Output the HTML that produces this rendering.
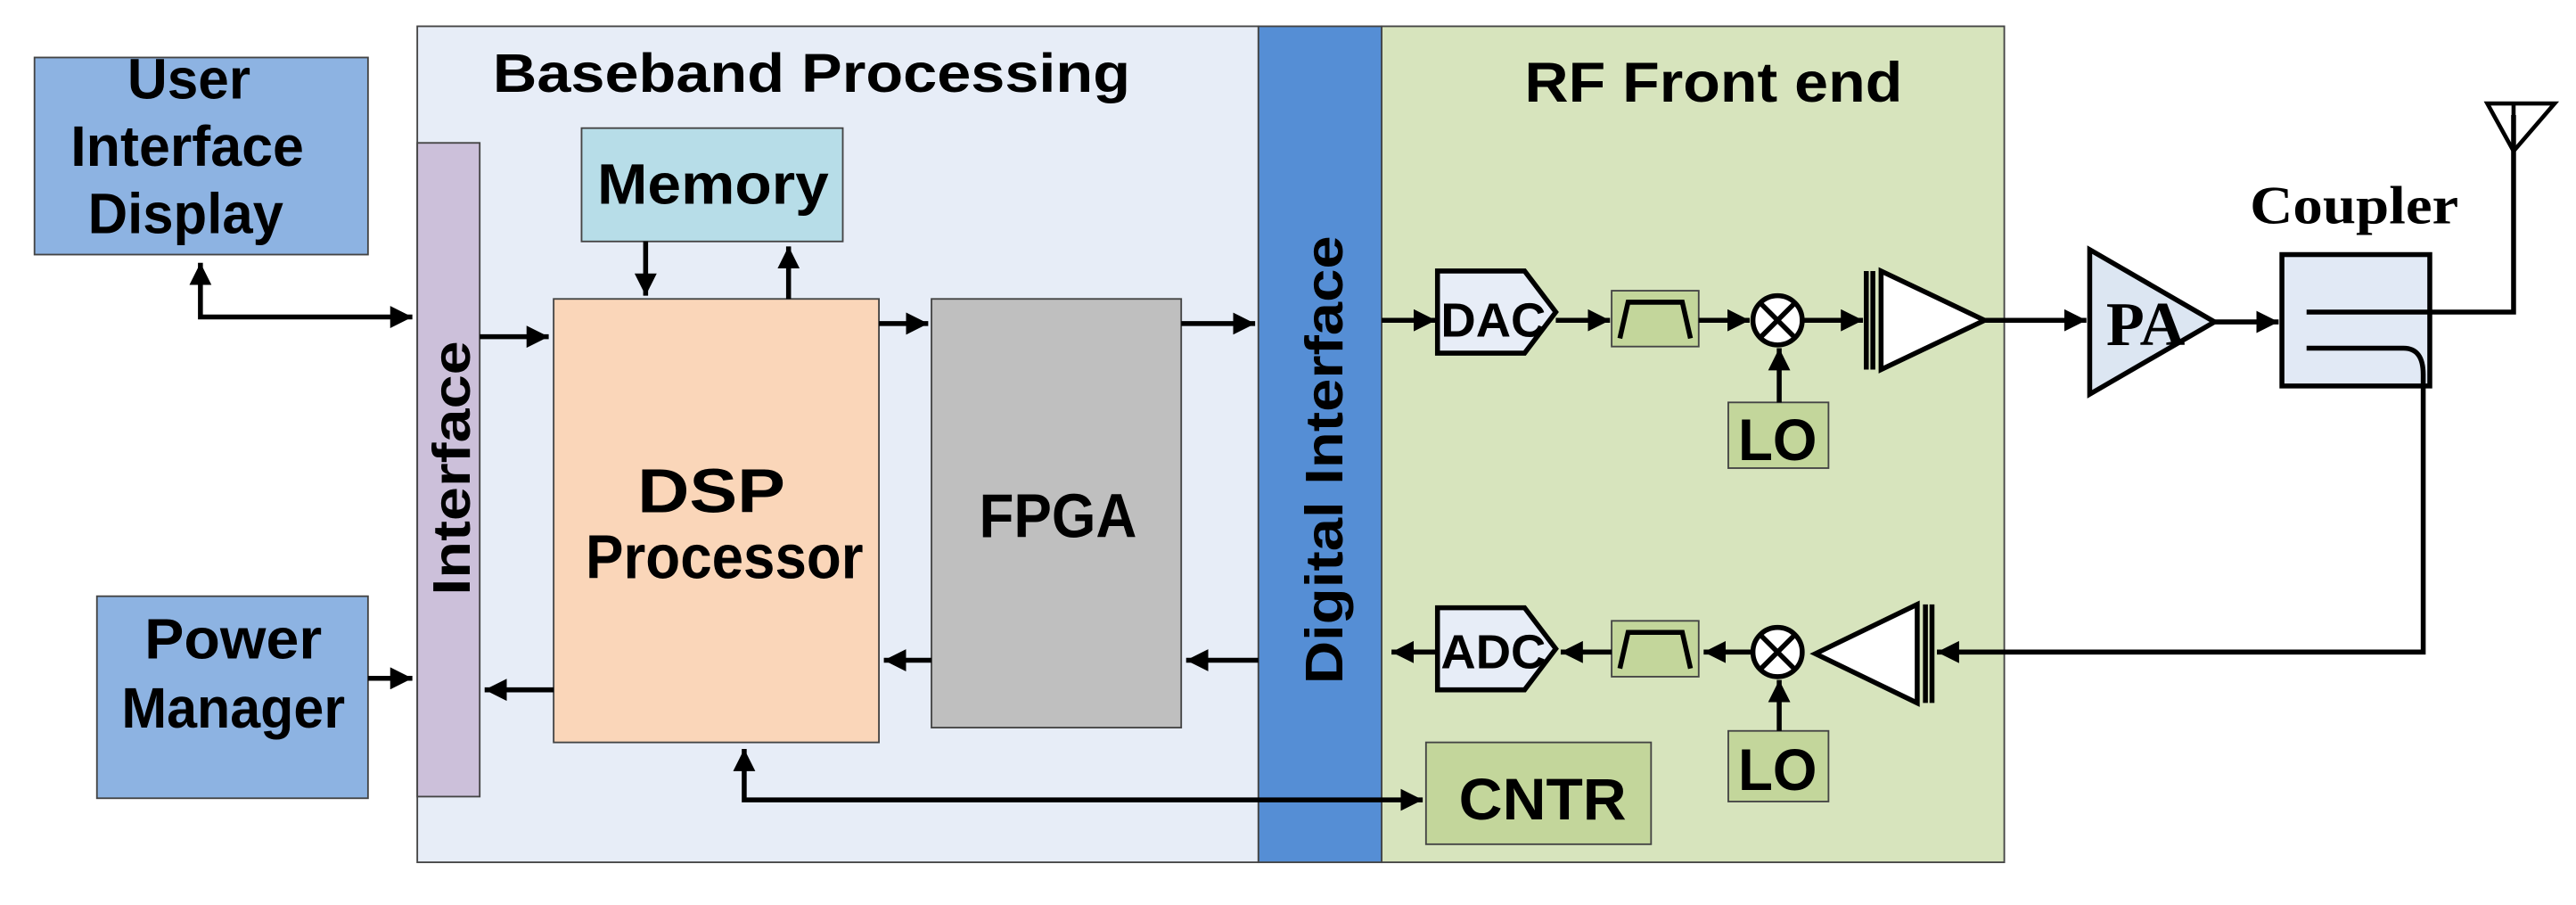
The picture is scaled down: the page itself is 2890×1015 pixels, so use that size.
<!DOCTYPE html>
<html><head><meta charset="utf-8"><style>html,body{margin:0;padding:0;background:#fff}svg{display:block}</style></head>
<body>
<svg width="2890" height="1015" viewBox="0 0 1568 551" preserveAspectRatio="none" xmlns="http://www.w3.org/2000/svg" font-family="'Liberation Sans',sans-serif" font-weight="bold">
<defs>
<marker id="a" viewBox="0 0 10 10" refX="10" refY="5" markerWidth="4.5" markerHeight="4.5" orient="auto-start-reverse" markerUnits="strokeWidth"><path d="M0,0 L10,5 L0,10 z" fill="#000"/></marker>
</defs>
<g stroke="#444" stroke-width="1">
<rect x="254" y="16" width="512" height="509" fill="#e7edf7"/>
<rect x="841" y="16" width="379" height="509" fill="#d7e4bd"/>
<rect x="766" y="16" width="75" height="509" fill="#558ed5"/>
<rect x="21" y="35" width="203" height="120" fill="#8db3e2"/>
<rect x="59" y="363" width="165" height="123" fill="#8db3e2"/>
<rect x="254" y="87" width="38" height="398" fill="#ccc0da"/>
<rect x="354" y="78" width="159" height="69" fill="#b7dde8"/>
<rect x="337" y="182" width="198" height="270" fill="#fad6b9"/>
<rect x="567" y="182" width="152" height="261" fill="#bfbfbf"/>
<rect x="981" y="177" width="53" height="34" fill="#c3d69b"/>
<rect x="981" y="378" width="53" height="34" fill="#c3d69b"/>
<rect x="1052" y="245" width="61" height="40" fill="#c3d69b"/>
<rect x="1052" y="445" width="61" height="43" fill="#c3d69b"/>
<rect x="868" y="452" width="137" height="62" fill="#c3d69b"/>
</g>
<rect x="1389" y="155" width="90" height="80" fill="#e1e9f5" stroke="#000" stroke-width="3"/>
<g fill="#000" font-size="35" text-anchor="middle" lengthAdjust="spacingAndGlyphs">
<text x="115" y="60" textLength="75" lengthAdjust="spacingAndGlyphs">User</text>
<text x="114" y="101" textLength="142" lengthAdjust="spacingAndGlyphs">Interface</text>
<text x="113" y="142" textLength="119" lengthAdjust="spacingAndGlyphs">Display</text>
<text x="142" y="401" textLength="108" lengthAdjust="spacingAndGlyphs">Power</text>
<text x="142" y="443" textLength="136" lengthAdjust="spacingAndGlyphs">Manager</text>
<text x="494" y="56" font-size="33" textLength="388" lengthAdjust="spacingAndGlyphs">Baseband Processing</text>
<text x="434" y="124" textLength="141" lengthAdjust="spacingAndGlyphs">Memory</text>
<text x="433" y="312" font-size="38" textLength="90" lengthAdjust="spacingAndGlyphs">DSP</text>
<text x="441" y="352" font-size="38" textLength="169" lengthAdjust="spacingAndGlyphs">Processor</text>
<text x="644" y="327" font-size="38" textLength="96" lengthAdjust="spacingAndGlyphs">FPGA</text>
<text x="1043" y="62" font-size="34" textLength="230" lengthAdjust="spacingAndGlyphs">RF Front end</text>
<text x="1082" y="280" font-size="36" textLength="48" lengthAdjust="spacingAndGlyphs">LO</text>
<text x="1082" y="481" font-size="36" textLength="48" lengthAdjust="spacingAndGlyphs">LO</text>
<text x="939" y="499" font-size="36" textLength="102" lengthAdjust="spacingAndGlyphs">CNTR</text>
<text transform="translate(286,285) rotate(-90)" font-size="32" textLength="155" lengthAdjust="spacingAndGlyphs">Interface</text>
<text transform="translate(817,280) rotate(-90)" font-size="32" textLength="273" lengthAdjust="spacingAndGlyphs">Digital Interface</text>
<text x="1433" y="136" font-family="'Liberation Serif',serif" font-size="33" textLength="127" lengthAdjust="spacingAndGlyphs">Coupler</text>
</g>
<g stroke="#000" stroke-width="3" fill="none">
<polyline points="122,160 122,193 251,193" marker-start="url(#a)" marker-end="url(#a)"/>
<line x1="224" y1="413" x2="251" y2="413" marker-end="url(#a)"/>
<line x1="292" y1="205" x2="334" y2="205" marker-end="url(#a)"/>
<line x1="337" y1="420" x2="295" y2="420" marker-end="url(#a)"/>
<line x1="393" y1="147" x2="393" y2="180" marker-end="url(#a)"/>
<line x1="480" y1="182" x2="480" y2="150" marker-end="url(#a)"/>
<line x1="535" y1="197" x2="565" y2="197" marker-end="url(#a)"/>
<line x1="719" y1="197" x2="764" y2="197" marker-end="url(#a)"/>
<line x1="567" y1="402" x2="538" y2="402" marker-end="url(#a)"/>
<line x1="766" y1="402" x2="722" y2="402" marker-end="url(#a)"/>
<polyline points="453,456 453,487 866,487" marker-start="url(#a)" marker-end="url(#a)"/>
<line x1="841" y1="195" x2="874" y2="195" marker-end="url(#a)"/>
<line x1="947" y1="195" x2="980" y2="195" marker-end="url(#a)"/>
<line x1="1034" y1="195" x2="1065" y2="195" marker-end="url(#a)"/>
<line x1="1098" y1="195" x2="1134" y2="195" marker-end="url(#a)"/>
<line x1="1083" y1="245" x2="1083" y2="212" marker-end="url(#a)"/>
<line x1="1208" y1="195" x2="1270" y2="195" marker-end="url(#a)"/>
<line x1="1348" y1="196" x2="1387" y2="196" marker-end="url(#a)"/>
<line x1="875" y1="397" x2="847" y2="397" marker-end="url(#a)"/>
<line x1="981" y1="397" x2="950" y2="397" marker-end="url(#a)"/>
<line x1="1066" y1="397" x2="1037" y2="397" marker-end="url(#a)"/>
<line x1="1083" y1="445" x2="1083" y2="414" marker-end="url(#a)"/>
<path d="M1404,212 L1463,212 Q1475,212 1475,228 L1475,397 L1179,397" marker-end="url(#a)"/>
<polyline points="1404,190 1530,190 1530,70"/>
<path d="M1514,63 L1555,63 L1530,92 Z M1530,63 L1530,92" stroke-width="2.5"/>
</g>
<g stroke="#000" stroke-width="3">
<path d="M875,165 L928,165 L947,190 L928,215 L875,215 Z" fill="#e7edf7"/>
<path d="M875,370 L928,370 L947,395 L928,420 L875,420 Z" fill="#e7edf7"/>
<path d="M986,206 L991,184 L1024,184 L1029,206" fill="none"/>
<path d="M986,407 L991,385 L1024,385 L1029,407" fill="none"/>
<circle cx="1082" cy="195" r="15" fill="#fff"/>
<path d="M1072,185 L1092,205 M1092,185 L1072,205"/>
<circle cx="1082" cy="397" r="15" fill="#fff"/>
<path d="M1072,387 L1092,407 M1092,387 L1072,407"/>
<path d="M1136,165 L1136,225 M1140,165 L1140,225" fill="none"/>
<path d="M1145,165 L1208,195 L1145,225 Z" fill="#fff"/>
<path d="M1176,368 L1176,428 M1172,368 L1172,428" fill="none"/>
<path d="M1167,368 L1105,398 L1167,428 Z" fill="#fff"/>
<path d="M1272,152 L1348,196 L1272,240 Z" fill="#dce6f2"/>
</g>
<text x="1306" y="210" font-family="'Liberation Serif',serif" font-weight="bold" font-size="38" text-anchor="middle" textLength="48" lengthAdjust="spacingAndGlyphs">PA</text>
<g font-size="29" text-anchor="middle" fill="#000">
<text x="909" y="205" textLength="64" lengthAdjust="spacingAndGlyphs">DAC</text>
<text x="909" y="407" textLength="64" lengthAdjust="spacingAndGlyphs">ADC</text>
</g>
</svg>
</body></html>
